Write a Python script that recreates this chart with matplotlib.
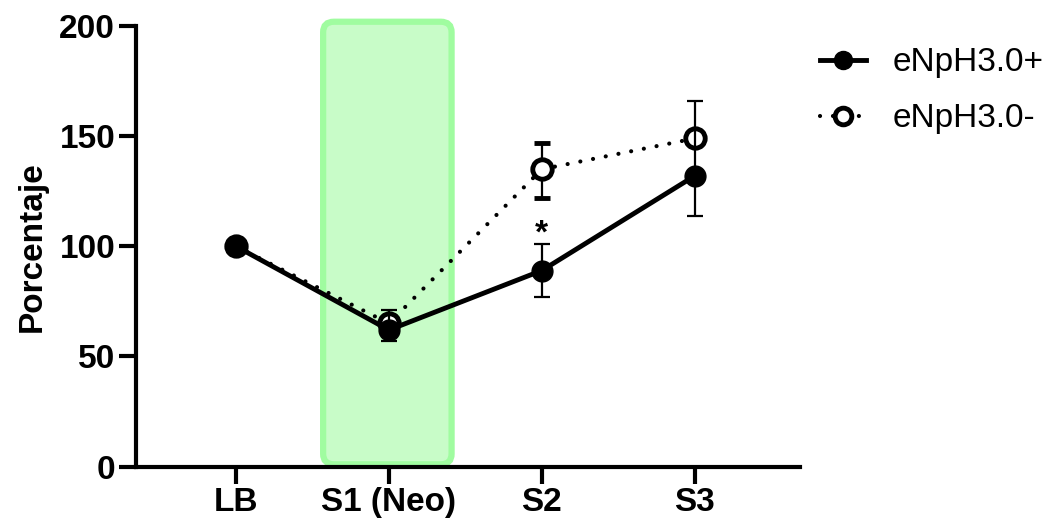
import numpy as np
import matplotlib.pyplot as plt
from matplotlib.patches import FancyBboxPatch
from matplotlib.lines import Line2D

plt.rcParams['font.family'] = ['Liberation Sans', 'DejaVu Sans']

# Data
categories = ['LB', 'S1 (Neo)', 'S2', 'S3']
pos_mean = [100, 62, 89, 132]
pos_err_lo = [0, 5, 12, 18]
pos_err_hi = [0, 9, 12, 34]
neg_mean = [100, 65, 135, 149]
neg_err_lo = [0, 0, 13, 0]
neg_err_hi = [0, 0, 12, 0]
star_x = 2
star_y = 101.5


def make_chart():
    fig = plt.figure(figsize=(10.55, 5.23), dpi=100)
    ax = fig.add_axes([0.1289, 0.108, 0.629, 0.842])
    x = np.arange(len(categories))

    # Green shaded period around S1
    box = FancyBboxPatch((0.57, 1.0), 0.84, 201,
                         boxstyle='round,pad=0,rounding_size=0.07',
                         mutation_aspect=68,
                         facecolor='#c8fcc8', edgecolor='#a0fca0',
                         linewidth=4.5, clip_on=False, zorder=1)
    ax.add_patch(box)

    # eNpH3.0- (open, dotted)
    ax.errorbar(x, neg_mean, yerr=[neg_err_lo, neg_err_hi], color='black',
                linestyle=(0, (0.01, 3.1)), dash_capstyle='round', linewidth=3,
                marker='o', markersize=14, markerfacecolor='white',
                markeredgewidth=3.5, markeredgecolor='black',
                ecolor='black', elinewidth=1.6, capsize=6, capthick=1.6,
                zorder=3, clip_on=False)

    # eNpH3.0+ (filled, solid)
    ax.errorbar(x, pos_mean, yerr=[pos_err_lo, pos_err_hi], color='black',
                linestyle='-', linewidth=3.5,
                marker='o', markersize=15, markerfacecolor='black',
                markeredgecolor='black',
                ecolor='black', elinewidth=1.6, capsize=6, capthick=1.6,
                zorder=4, clip_on=False)

    ax.text(star_x, star_y, '*', ha='center', va='baseline', fontsize=24,
            fontweight='bold')

    ax.set_xlim(-0.654, 3.686)
    ax.set_ylim(0, 200)
    ax.set_xticks(x)
    ax.set_xticklabels(categories, fontsize=24, fontweight='bold')
    ax.set_yticks([0, 50, 100, 150, 200])
    ax.set_yticklabels(['0', '50', '100', '150', '200'], fontsize=24,
                       fontweight='bold')
    ax.set_ylabel('Porcentaje', fontsize=24, fontweight='bold', labelpad=8)

    for side in ['top', 'right']:
        ax.spines[side].set_visible(False)
    for side in ['left', 'bottom']:
        ax.spines[side].set_linewidth(3)
    ax.tick_params(axis='both', direction='out', length=12, width=3, pad=3)

    handles = [
        Line2D([], [], color='black', linewidth=3.5, marker='o',
               markersize=13, markerfacecolor='black'),
        Line2D([], [], color='black', linewidth=3,
               linestyle=(0, (0.01, 3.1)), dash_capstyle='round',
               marker='o', markersize=12, markerfacecolor='white',
               markeredgewidth=3.5),
    ]
    ax.legend(handles, ['eNpH3.0+', 'eNpH3.0-'], loc='upper left',
              bbox_to_anchor=(0.985, 1.02), frameon=False, fontsize=24,
              handlelength=1.4, labelspacing=0.75, handletextpad=0.8)

    fig.savefig('out.png', dpi=100)


if __name__ == "__main__":
    make_chart()
